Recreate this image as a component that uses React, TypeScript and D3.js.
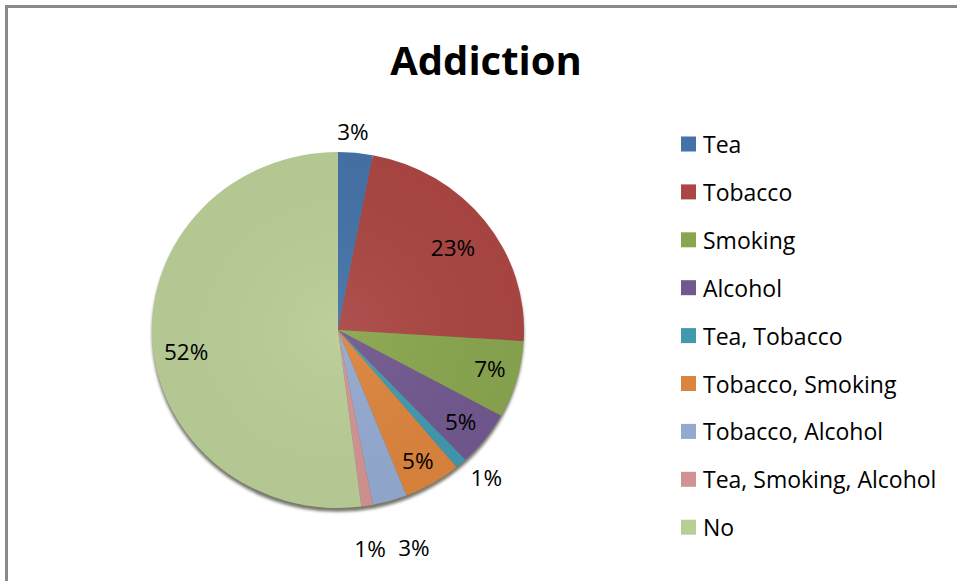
import React from "react";
import * as d3 from "d3";

const categories = [
  "Tea",
  "Tobacco",
  "Smoking",
  "Alcohol",
  "Tea, Tobacco",
  "Tobacco, Smoking",
  "Tobacco, Alcohol",
  "Tea, Smoking, Alcohol",
  "No",
];
const values = [3, 23, 7, 5, 1, 5, 3, 1, 52];
const colors = [
  "#4572A7",
  "#AA4643",
  "#89A54E",
  "#71588F",
  "#4198AF",
  "#DB843D",
  "#93A9CF",
  "#D19392",
  "#B9CD96",
];
const title = "Addiction";

// label placement (radius factor, relative to pie radius) per slice
const labelRadius: Record<string, number> = {
  Tea: 1.12,
  Tobacco: 0.774,
  Smoking: 0.846,
  Alcohol: 0.835,
  "Tea, Tobacco": 1.15,
  "Tobacco, Smoking": 0.85,
  "Tobacco, Alcohol": 1.29,
  "Tea, Smoking, Alcohol": 1.24,
  No: 0.826,
};
const labelAngleShift: Record<string, number> = {
  Tea: -1.3,
  Tobacco: 0.8,
  Smoking: -1.2,
  Alcohol: 0,
  "Tea, Tobacco": -2.5,
  "Tobacco, Smoking": 0.3,
  "Tobacco, Alcohol": -2.25,
  "Tea, Smoking, Alcohol": 1,
  No: -5,
};

export default function App() {
  const W = 957;
  const H = 581;
  const cx = 338;
  const cy = 330;
  const r = 186;
  const sy = 0.957;

  const pieGen = d3.pie<number>().sort(null).value((d) => d);
  const arcs = pieGen(values);
  const arcGen = d3.arc<d3.PieArcDatum<number>>().innerRadius(0).outerRadius(r);
  const total = d3.sum(values);

  const font = "'Open Sans', 'Noto Sans', sans-serif";

  const legendX = 681;
  const legendY0 = 144;
  const legendStep = 47.9;

  return (
    <div style={{ position: "absolute", left: 0, top: 0 }}>
      <svg width={W} height={H} style={{ display: "block", background: "#fff" }}>
        <defs>
          <filter id="shadow" x="-20%" y="-20%" width="140%" height="140%">
            <feGaussianBlur stdDeviation="1.5" />
          </filter>
          <radialGradient id="shine" cx="0.5" cy="0.5" r="0.5">
            <stop offset="0%" stopColor="#fff" stopOpacity={0.06} />
            <stop offset="100%" stopColor="#000" stopOpacity={0.03} />
          </radialGradient>
        </defs>
        <rect x={0} y={0} width={W} height={H} fill="#fff" />
        {/* frame */}
        <path d={`M6.5,${H + 5} L6.5,6.5 L${W + 5},6.5`} fill="none" stroke="#8a8a8a" strokeWidth={3} />
        {/* title */}
        <text
          x={486}
          y={75}
          textAnchor="middle"
          fontFamily={font}
          fontWeight="bold"
          fontSize={40}
          fill="#000"
        >
          {title}
        </text>
        {/* pie */}
        <g transform={`translate(${cx},${cy}) scale(1,${sy})`}>
          <ellipse cx={0} cy={4} rx={r} ry={r} fill="#4a4a3a" opacity={0.75} filter="url(#shadow)" />
          {arcs.map((a, i) => (
            <path key={categories[i]} d={arcGen(a) || ""} fill={colors[i]} />
          ))}
          <circle cx={0} cy={0} r={r} fill="url(#shine)" />
        </g>
        {/* labels */}
        {arcs.map((a, i) => {
          const cat = categories[i];
          const mid = (a.startAngle + a.endAngle) / 2 + ((labelAngleShift[cat] || 0) * Math.PI) / 180;
          const rr = r * (labelRadius[cat] || 0.8);
          const x = cx + Math.sin(mid) * rr;
          const y = cy - Math.cos(mid) * rr * sy;
          return (
            <text
              key={"l" + cat}
              x={x}
              y={y}
              textAnchor="middle"
              dominantBaseline="central"
              fontFamily={font}
              fontSize={22.5}
              fill="#000"
            >
              {Math.round((values[i] / total) * 100) + "%"}
            </text>
          );
        })}
        {/* legend */}
        {categories.map((c, i) => {
          const y = legendY0 + i * legendStep;
          return (
            <g key={"lg" + c}>
              <rect x={legendX} y={y - 7.5} width={15} height={15} fill={colors[i]} />
              <text
                x={703}
                y={y}
                dominantBaseline="central"
                fontFamily={font}
                fontSize={23}
                fill="#000"
              >
                {c}
              </text>
            </g>
          );
        })}
      </svg>
    </div>
  );
}
